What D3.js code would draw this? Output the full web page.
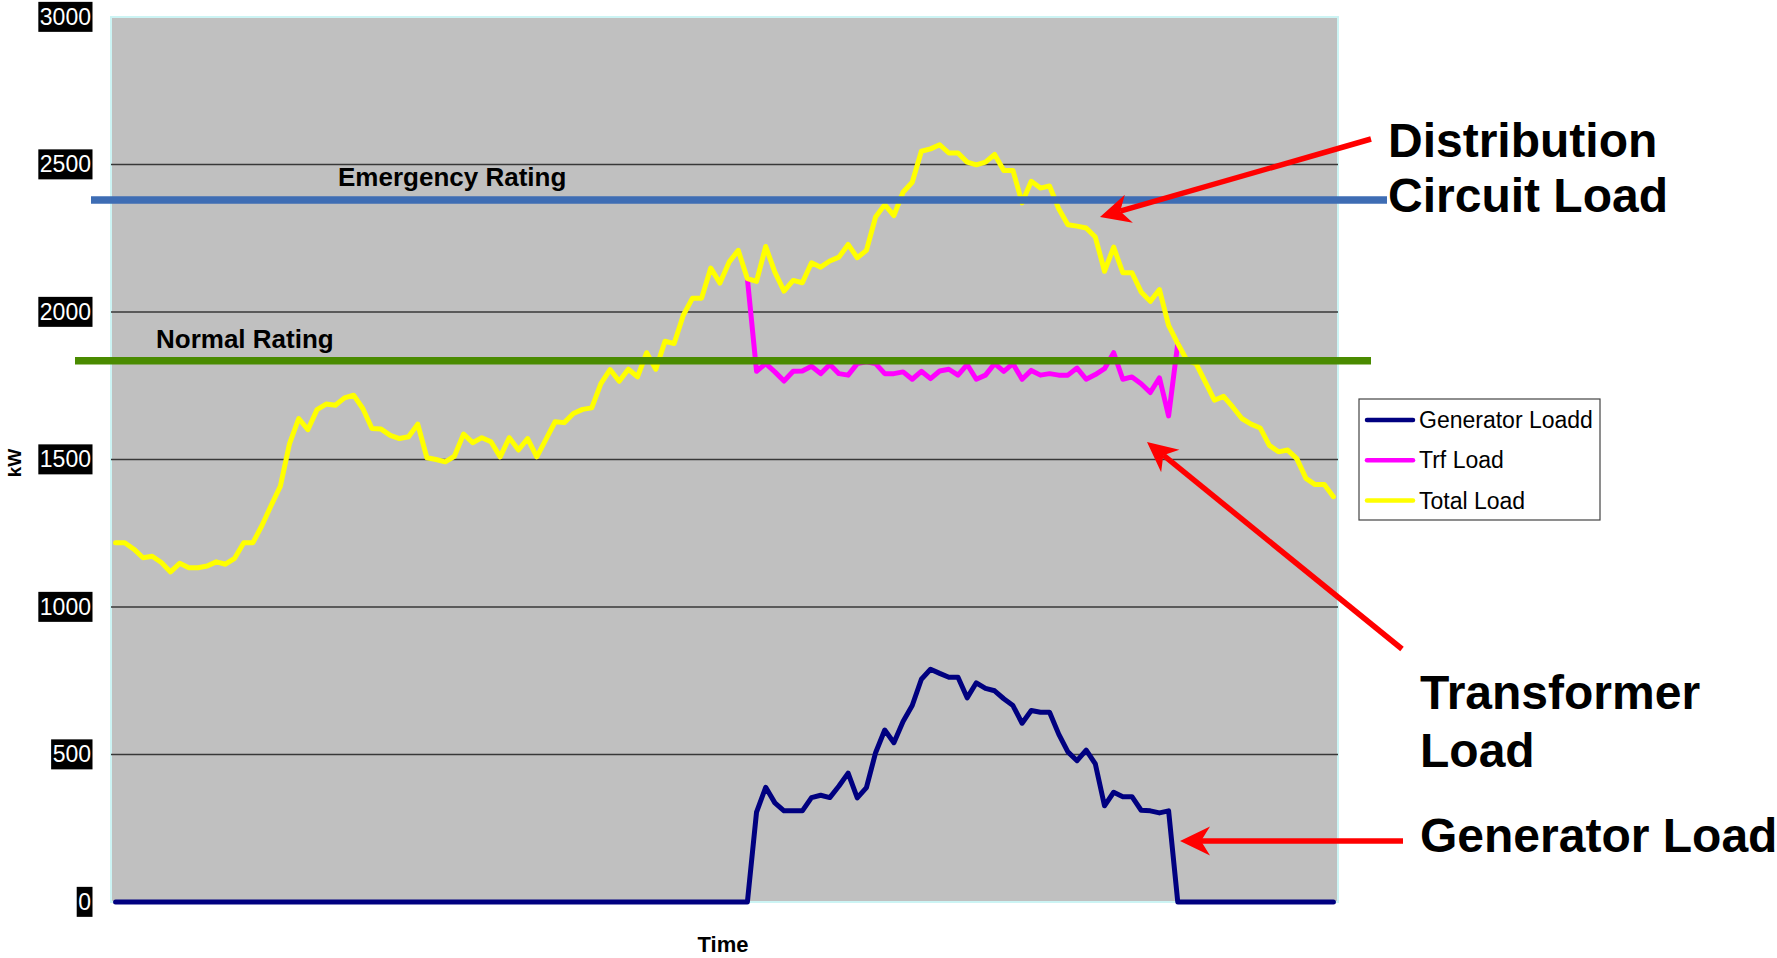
<!DOCTYPE html>
<html>
<head>
<meta charset="utf-8">
<script src="https://cdn.jsdelivr.net/npm/d3@7"></script>
<style>
  body { margin: 0; background: #fff; }
  svg { display: block; font-family: "Liberation Sans", Arial, sans-serif; }
</style>
</head>
<body>
<div id="chart-area"></div>
<script>
// values, one per time step
const totalLoad = [
  1218, 1218, 1196, 1167, 1172, 1151, 1119, 1148, 1133, 1133,
  1139, 1153, 1145, 1165, 1218, 1218, 1277, 1345, 1410, 1554,
  1639, 1601, 1669, 1688, 1684, 1709, 1718, 1673, 1605, 1603,
  1582, 1571, 1577, 1620, 1506, 1500, 1492, 1511, 1586, 1557,
  1574, 1560, 1509, 1574, 1532, 1571, 1509, 1568, 1628, 1625,
  1656, 1670, 1675, 1757, 1805, 1765, 1806, 1780, 1862, 1806,
  1901, 1893, 1989, 2047, 2047, 2149, 2098, 2169, 2209, 2113,
  2104, 2222, 2135, 2071, 2107, 2099, 2167, 2152, 2173, 2186,
  2229, 2184, 2209, 2322, 2364, 2327, 2406, 2440, 2545, 2553,
  2567, 2539, 2539, 2508, 2499, 2508, 2534, 2480, 2480, 2370,
  2443, 2420, 2427, 2350, 2296, 2291, 2285, 2254, 2138, 2220,
  2133, 2133, 2068, 2036, 2076, 1955, 1893, 1836, 1825, 1763,
  1701, 1714, 1678, 1639, 1620, 1607, 1548, 1526, 1532, 1503,
  1436, 1415, 1415, 1374
];

const genLoad = [
  0, 0, 0, 0, 0, 0, 0, 0, 0, 0,
  0, 0, 0, 0, 0, 0, 0, 0, 0, 0,
  0, 0, 0, 0, 0, 0, 0, 0, 0, 0,
  0, 0, 0, 0, 0, 0, 0, 0, 0, 0,
  0, 0, 0, 0, 0, 0, 0, 0, 0, 0,
  0, 0, 0, 0, 0, 0, 0, 0, 0, 0,
  0, 0, 0, 0, 0, 0, 0, 0, 0, 0,
  305, 389, 336, 309, 309, 309, 354, 362, 354, 393,
  437, 353, 388, 506, 583, 540, 612, 666, 755, 789,
  775, 762, 762, 692, 743, 724, 716, 689, 666, 606,
  649, 643, 643, 569, 509, 479, 515, 468, 326, 372,
  357, 357, 311, 309, 302, 309, 0, 0, 0, 0,
  0, 0, 0, 0, 0, 0, 0, 0, 0, 0,
  0, 0, 0, 0
];

// transformer load only shows while the generator runs (steps 69..116)
const trfFrom = 69;
const trfLoad = [
  2113,
  1799, 1825, 1797, 1766, 1799, 1800, 1816, 1791, 1822, 1791,
  1786, 1825, 1831, 1825, 1791, 1791, 1797, 1772, 1799, 1774,
  1800, 1806, 1786, 1822, 1772, 1786, 1825, 1799, 1825, 1772,
  1802, 1786, 1791, 1786, 1786, 1810, 1772, 1788, 1808, 1862,
  1772, 1780, 1757, 1727, 1777, 1648, 1893
];

const yTicks = [0, 500, 1000, 1500, 2000, 2500, 3000];
const emergencyRating = 2380;
const normalRating = 1835;
const seriesNames = ["Generator Loadd", "Trf Load", "Total Load"];
const seriesColors = ["#000080", "#ff00ff", "#ffff00"];

let width = 1777, height = 958;
let plot = {left: 111, right: 1338, top: 17, bottom: 902};
let font = '"Liberation Sans", Arial, sans-serif';

let svg = d3.select("#chart-area")
    .append("svg")
        .attr("width", width)
        .attr("height", height);

let steps = d3.range(totalLoad.length);

let x = d3.scalePoint()
    .domain(steps)
    .range([plot.left, plot.right])
    .padding(0.5);

let y = d3.scaleLinear()
    .domain([0, 3000])
    .range([plot.bottom, plot.top]);

// plot area
svg.append("rect")
    .attr("x", plot.left)
    .attr("y", plot.top)
    .attr("width", plot.right - plot.left)
    .attr("height", plot.bottom - plot.top)
    .attr("fill", "#c0c0c0")
    .attr("stroke", "#ccf4f4")
    .attr("stroke-width", 2);

// gridlines
svg.append("g")
    .selectAll("line")
    .data(yTicks.filter(d => d > 0 && d < 3000))
    .enter()
    .append("line")
        .attr("x1", plot.left)
        .attr("x2", plot.right)
        .attr("y1", d => y(d))
        .attr("y2", d => y(d))
        .attr("stroke", "#383838")
        .attr("stroke-width", 1.5);

// y axis, white labels on black boxes
let yAxisGroup = svg.append("g")
    .attr("transform", "translate(" + plot.left + ",0)")
    .call(d3.axisLeft(y).tickValues(yTicks).tickFormat(d3.format("d")).tickSize(0).tickPadding(20))
    .attr("font-family", font)
    .attr("font-size", 23);

yAxisGroup.select(".domain").remove();
yAxisGroup.selectAll("text").attr("fill", "#fff");
yAxisGroup.selectAll(".tick").each(function() {
    let b = d3.select(this).select("text").node().getBBox();
    d3.select(this).insert("rect", "text")
        .attr("x", b.x - 1.5)
        .attr("y", b.y - 2)
        .attr("width", b.width + 3)
        .attr("height", b.height + 4)
        .attr("fill", "#000");
});

// series
let trfSeries = steps.map(i => (i >= trfFrom && i < trfFrom + trfLoad.length) ? trfLoad[i - trfFrom] : null);
let series = [genLoad, trfSeries, totalLoad];

let line = d3.line()
    .defined(d => d != null)
    .x((d, i) => x(i))
    .y(d => y(d));

svg.append("g")
    .selectAll("path")
    .data(series)
    .enter()
    .append("path")
        .attr("d", line)
        .attr("fill", "none")
        .attr("stroke", (d, i) => seriesColors[i])
        .attr("stroke-width", 5)
        .attr("stroke-linejoin", "round")
        .attr("stroke-linecap", "round");

// rating lines
svg.append("line")
    .attr("x1", 91).attr("x2", 1387)
    .attr("y1", y(emergencyRating)).attr("y2", y(emergencyRating))
    .attr("stroke", "#3e6db4")
    .attr("stroke-width", 7.5);

svg.append("line")
    .attr("x1", 75).attr("x2", 1371)
    .attr("y1", y(normalRating)).attr("y2", y(normalRating))
    .attr("stroke", "#4a8b00")
    .attr("stroke-width", 7.5);

svg.append("text")
    .attr("x", 338).attr("y", 186)
    .attr("font-size", "26px").attr("font-weight", "bold")
    .text("Emergency Rating");

svg.append("text")
    .attr("x", 156).attr("y", 348)
    .attr("font-size", "26px").attr("font-weight", "bold")
    .text("Normal Rating");

// red arrows
function arrow(x1, y1, x2, y2) {
    let a = Math.atan2(y2 - y1, x2 - x1);
    let ux = Math.cos(a), uy = Math.sin(a);
    let len = 30, half = 14.5, back = 21;
    svg.append("line")
        .attr("x1", x1).attr("y1", y1)
        .attr("x2", x2 - ux * back).attr("y2", y2 - uy * back)
        .attr("stroke", "#ff0000")
        .attr("stroke-width", 5.5);
    let pts = [
        [x2, y2],
        [x2 - ux * len - uy * half, y2 - uy * len + ux * half],
        [x2 - ux * back, y2 - uy * back],
        [x2 - ux * len + uy * half, y2 - uy * len - ux * half]
    ];
    svg.append("path")
        .attr("d", d3.line()(pts) + "Z")
        .attr("fill", "#ff0000");
}

arrow(1371, 139, 1100, 217);
arrow(1402, 649, 1147, 442);
arrow(1403, 841, 1180, 841);

// callout labels
let callouts = [
    {text: "Distribution", x: 1388, y: 157},
    {text: "Circuit Load", x: 1388, y: 212},
    {text: "Transformer", x: 1420, y: 709},
    {text: "Load", x: 1420, y: 767},
    {text: "Generator Load", x: 1420, y: 852}
];

svg.append("g")
    .selectAll("text")
    .data(callouts)
    .enter()
    .append("text")
        .attr("x", d => d.x)
        .attr("y", d => d.y)
        .attr("font-size", "48px")
        .attr("font-weight", "bold")
        .text(d => d.text);

// legend
let legend = svg.append("g").attr("transform", "translate(1359, 399)");

legend.append("rect")
    .attr("width", 241)
    .attr("height", 121)
    .attr("fill", "#fff")
    .attr("stroke", "#444")
    .attr("stroke-width", 1.2);

let items = legend.selectAll(".item")
    .data(seriesNames)
    .enter()
    .append("g")
        .attr("class", "item")
        .attr("transform", (d, i) => "translate(0, " + (21 + i * 40.3) + ")");

items.append("line")
    .attr("x1", 8).attr("x2", 54)
    .attr("stroke", (d, i) => seriesColors[i])
    .attr("stroke-width", 4.5)
    .attr("stroke-linecap", "round");

items.append("text")
    .attr("x", 60)
    .attr("y", 8)
    .attr("font-size", "23px")
    .text(d => d);

// axis titles
svg.append("text")
    .attr("x", 723).attr("y", 952)
    .attr("text-anchor", "middle")
    .attr("font-size", "22px").attr("font-weight", "bold")
    .text("Time");

svg.append("text")
    .attr("transform", "translate(21, 463) rotate(-90)")
    .attr("text-anchor", "middle")
    .attr("font-size", "19px").attr("font-weight", "bold")
    .text("kW");
</script>
</body>
</html>
